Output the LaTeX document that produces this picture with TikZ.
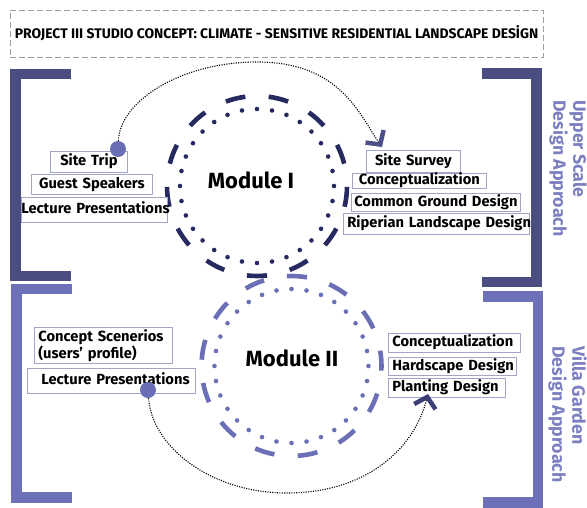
\documentclass[tikz,border=0pt]{standalone}
\usepackage{fontspec}
\setmainfont{Fira Sans}
\usetikzlibrary{arrows.meta}

\definecolor{navyring}{HTML}{272A60}
\definecolor{lilacring}{HTML}{6B6FB6}
\definecolor{bracketdark}{HTML}{4A4D80}
\definecolor{bracketlight}{HTML}{6D71B8}
\definecolor{boxline}{HTML}{A3A5C8}
\definecolor{titleline}{HTML}{9E9E9E}
\definecolor{sidetext}{HTML}{7D80C0}
\definecolor{startdot}{HTML}{6A6EB6}
\definecolor{tipdark}{HTML}{4D5088}
\definecolor{tipnavy}{HTML}{3B3E74}

\begin{document}
\begin{tikzpicture}[x=1pt,y=-1pt,
  bracketup/.style={draw=bracketdark,line width=10.5pt,line join=miter},
  bracketlow/.style={draw=bracketlight,line width=10.5pt,line join=miter},
  titlebox/.style={draw=titleline,line width=1pt,dash pattern=on 6pt off 3pt,
    minimum width=533pt,minimum height=47pt,inner sep=0pt,
    font=\bfseries\fontsize{13.9}{15}\selectfont},
  ringdash/.style={line width=4.6pt,line cap=butt},
  tbox/.style={draw=boxline,line width=0.8pt,fill=white,inner ysep=0pt,
    anchor=north west,font=\bfseries\fontsize{14.7}{15.5}\selectfont,text=black},
  oneline/.style={text height=10.8pt,text depth=3.4pt},
  modlabel/.style={font=\bfseries\fontsize{22}{24}\selectfont,text=black,inner sep=0pt},
  sidelabel/.style={rotate=-90,anchor=north west,align=left,inner sep=0pt,
    text=sidetext,font=\bfseries\fontsize{17.8}{20}\selectfont},
  startdot/.style={circle,fill=startdot,minimum size=16pt,inner sep=0pt},
  link/.style={draw=black,line width=1.1pt,dash pattern=on 1.1pt off 1.3pt}
]
\useasboundingbox (0,0) rectangle (587,507);

% side brackets
\draw[bracketup]  (71,74) -- (15.5,74) -- (15.5,276) -- (71,276);
\draw[bracketlow] (72,289) -- (16.5,289) -- (16.5,497.5) -- (72,497.5);
\draw[bracketup]  (482,73.5) -- (536.5,73.5) -- (536.5,282) -- (482,282);
\draw[bracketlow] (483,296.5) -- (538,296.5) -- (538,502.5) -- (483,502.5);

% heading
\node[titlebox] (title) at (276.5,33.5)
  {PROJECT III STUDIO CONCEPT: CLIMATE - SENSITIVE RESIDENTIAL LANDSCAPE DESİGN};

% ring centres
\coordinate (cI) at (257,186);
\coordinate (cII) at (291.5,366);

% Module II rings
\foreach \k in {0,...,12} {
  \pgfmathsetmacro\sa{-86.5+\k*360/13-6.4}
  \pgfmathsetmacro\ea{-86.5+\k*360/13+6.4}
  \draw[ringdash,lilacring] (cII) ++(\sa:90) arc[start angle=\sa,end angle=\ea,radius=90];
}
\foreach \k in {0,...,31} {
  \pgfmathsetmacro\da{-90+\k*11.25}
  \fill[lilacring] (cII) ++(\da:77) circle[radius=2.3pt];
}

% Module I rings
\foreach \k in {0,...,12} {
  \pgfmathsetmacro\sa{90+\k*360/13-6.4}
  \pgfmathsetmacro\ea{90+\k*360/13+6.4}
  \draw[ringdash,navyring] (cI) ++(\sa:90) arc[start angle=\sa,end angle=\ea,radius=90];
}
\foreach \k in {0,...,31} {
  \pgfmathsetmacro\da{-90+\k*11.25}
  \fill[navyring] (cI) ++(\da:77) circle[radius=2.3pt];
}

% Module I activities
\node[tbox,oneline,align=center,inner xsep=0pt,text width=77pt,minimum height=21pt] (trip) at (50,151) {\mbox{Site Trip}};
\node[tbox,oneline,align=center,inner xsep=0pt,text width=121pt,minimum height=20pt] (guest) at (31,174) {\mbox{Guest Speakers}};
\node[tbox,oneline,align=left,inner xsep=0pt,text width=146pt,minimum height=25pt] (lectI) at (21,197) {\mbox{Lecture Presentations}};
\node[tbox,oneline,align=center,inner xsep=0pt,text width=94pt,minimum height=22pt] (survey) at (366,150) {\mbox{Site Survey}};
\node[tbox,oneline,align=center,inner xsep=0pt,text width=134pt,minimum height=15pt] (conceptI) at (352,173) {\mbox{Conceptualization}};
\node[tbox,oneline,align=center,inner xsep=0pt,text width=169pt,minimum height=18pt] (common) at (351,193) {\mbox{Common Ground Design}};
\node[tbox,oneline,align=left,inner xsep=4pt,text width=178pt,minimum height=21pt] (riper) at (343,213) {\mbox{Riperian Landscape Design}};

% Module II activities
\node[tbox,align=left,inner xsep=4pt,text width=130pt,minimum height=36pt] (scen) at (34,327) {Concept Scenerios\\(users' profile)};
\node[tbox,oneline,align=left,inner xsep=4pt,text width=160pt,minimum height=25pt] (lectII) at (27,368) {\mbox{\hspace*{10pt}Lecture Presentations}};
\node[tbox,oneline,align=left,inner xsep=4pt,text width=124pt,minimum height=19pt] (conceptII) at (388,333) {\mbox{Conceptualization}};
\node[tbox,oneline,align=left,inner xsep=4pt,text width=120pt,minimum height=18pt] (hard) at (388,357) {\mbox{Hardscape Design}};
\node[tbox,oneline,align=left,inner xsep=4pt,text width=109pt,minimum height=19pt] (plant) at (388,378) {\mbox{Planting Design}};

% connectors
\node[startdot] (dotI) at (118,149) {};
\node[startdot] (dotII) at (148,390) {};
\coordinate (tipI) at (382,147);
\coordinate (tipII) at (428,394);
\draw[link,-{Straight Barb[sharp,length=10pt,width=22pt,line width=4.5pt,color=tipdark]}]
  (dotI) .. controls (120,101) and (181,62) .. (257,62)
         .. controls (340,62) and (359,114) .. (tipI);
\draw[link,-{Straight Barb[sharp,length=10pt,width=22pt,line width=4.5pt,color=tipnavy]}]
  (dotII) .. controls (152,447) and (211,493) .. (287,493)
          .. controls (365,493) and (414,450) .. (tipII);

% module titles
\node[modlabel] (modI) at (251,180) {Module I};
\node[modlabel] (modII) at (292,358) {Module II};

% scale labels
\node[sidelabel] (upper) at (587,100) {Upper Scale\\Design Approach};
\node[sidelabel] (villa) at (587,346) {Villa Garden\\Design Approach};
\end{tikzpicture}
\end{document}
